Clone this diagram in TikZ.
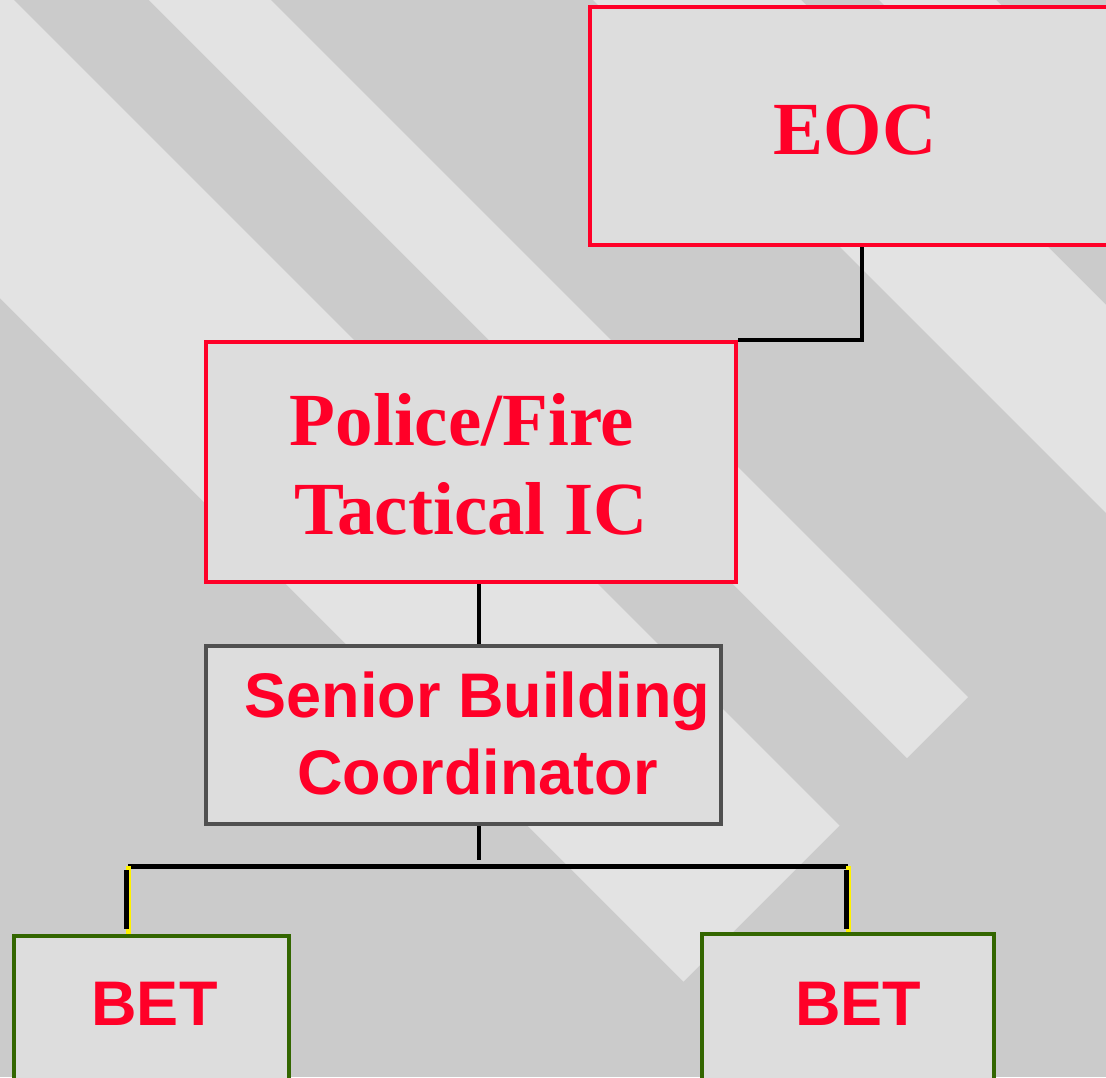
\documentclass[tikz,border=0pt]{standalone}
\usepackage{fontspec}
\newfontfamily\timesbf{Liberation Serif}
\newfontfamily\arialbf{Liberation Sans}
\definecolor{bggrey}{RGB}{203,203,203}
\definecolor{stripegrey}{RGB}{227,227,227}
\definecolor{boxfill}{RGB}{221,221,221}
\definecolor{tred}{RGB}{255,0,40}
\definecolor{framegrey}{RGB}{80,80,80}
\definecolor{framegreen}{RGB}{51,102,0}
\begin{document}
\begin{tikzpicture}[x=1pt,y=-1pt,
	box/.style={draw,fill=boxfill,line width=4.5pt,inner sep=0pt},
	redbox/.style={box,draw=tred},
	greybox/.style={box,draw=framegrey},
	greenbox/.style={box,draw=framegreen},
	serifred/.style={inner sep=0pt,text=tred,font=\timesbf\bfseries\fontsize{75}{89}\selectfont},
	sansred/.style={inner sep=0pt,text=tred,font=\arialbf\bfseries\fontsize{63}{77}\selectfont},
	link/.style={draw=black,line width=5pt},
	hilite/.style={draw=yellow,line width=5pt}]
		\useasboundingbox (0,0) rectangle (1106,1077);
		\clip (0,0) rectangle (1106,1077);
		
		\fill[bggrey] (0,0) rectangle (1106,1077);
		
		\fill[stripegrey] (-349,-51) -- (-193,-207) -- (839.5,825.5) -- (683.5,981.5) -- cycle;
		\fill[stripegrey] (-125.5,-274.5) -- (-64.5,-335.5) -- (968,697) -- (907,758) -- cycle;
		\fill[stripegrey] (96.5,-496.5) -- (200.5,-600.5) -- (1233,432) -- (1129,536) -- cycle;
		\fill[stripegrey] (239.5,-639.5) -- (298,-698) -- (1330.5,334.5) -- (1272,393) -- cycle;
		
		\node[redbox,minimum width=544pt,minimum height=238pt] (eoc) at (862,126){};
		\node[serifred] (eoctext) at (855,136.7){\begin{tabular}{c}EOC\end{tabular}};
		
		\node[redbox,minimum width=530pt,minimum height=240pt] (police) at (471,462){};
		\node[serifred] (policetext) at (471,471.7){\begin{tabular}{c}Police/Fire\hspace*{18pt}\\Tactical IC\end{tabular}};
		
		\node[greybox,minimum width=515pt,minimum height=178pt] (sbc) at (463.5,735){};
		\node[sansred] (sbctext) at (477.5,741){\begin{tabular}{c}Senior Building\\Coordinator\end{tabular}};
		
		\node[greenbox,minimum width=275pt,minimum height=150pt] (betl) at (151.5,1011){};
		\node[sansred] (betltext) at (154.5,1009.6){\begin{tabular}{c}BET\end{tabular}};
		
		\node[greenbox,minimum width=292pt,minimum height=150pt] (betr) at (848,1009){};
		\node[sansred] (betrtext) at (858,1009.6){\begin{tabular}{c}BET\end{tabular}};
		
		\coordinate (forkl) at (128,866);
		\coordinate (forkr) at (848,866);
		
		\draw[link,line width=4.5pt] (eoc.south) |- (police.north east);
		\draw[link,line width=4.5pt] ([xshift=8pt]police.south) -- ([xshift=8pt]police.south |- sbc.north);
		\draw[link,line width=4.5pt] ([xshift=15.5pt]sbc.south) -- ++(0,34);
		\draw[link] (forkl) -- (forkr);
		\draw[hilite] (forkl) -- (forkl |- betl.north);
		\draw[link,shorten <=4pt,shorten >=5pt,transform canvas={xshift=-1.5pt}] (forkl) -- (forkl |- betl.north);
		\draw[hilite] (forkr) -- (forkr |- betr.north);
		\draw[link,shorten <=4pt,shorten >=3pt,transform canvas={xshift=-1.5pt}] (forkr) -- (forkr |- betr.north);
	\end{tikzpicture}
\end{document}
